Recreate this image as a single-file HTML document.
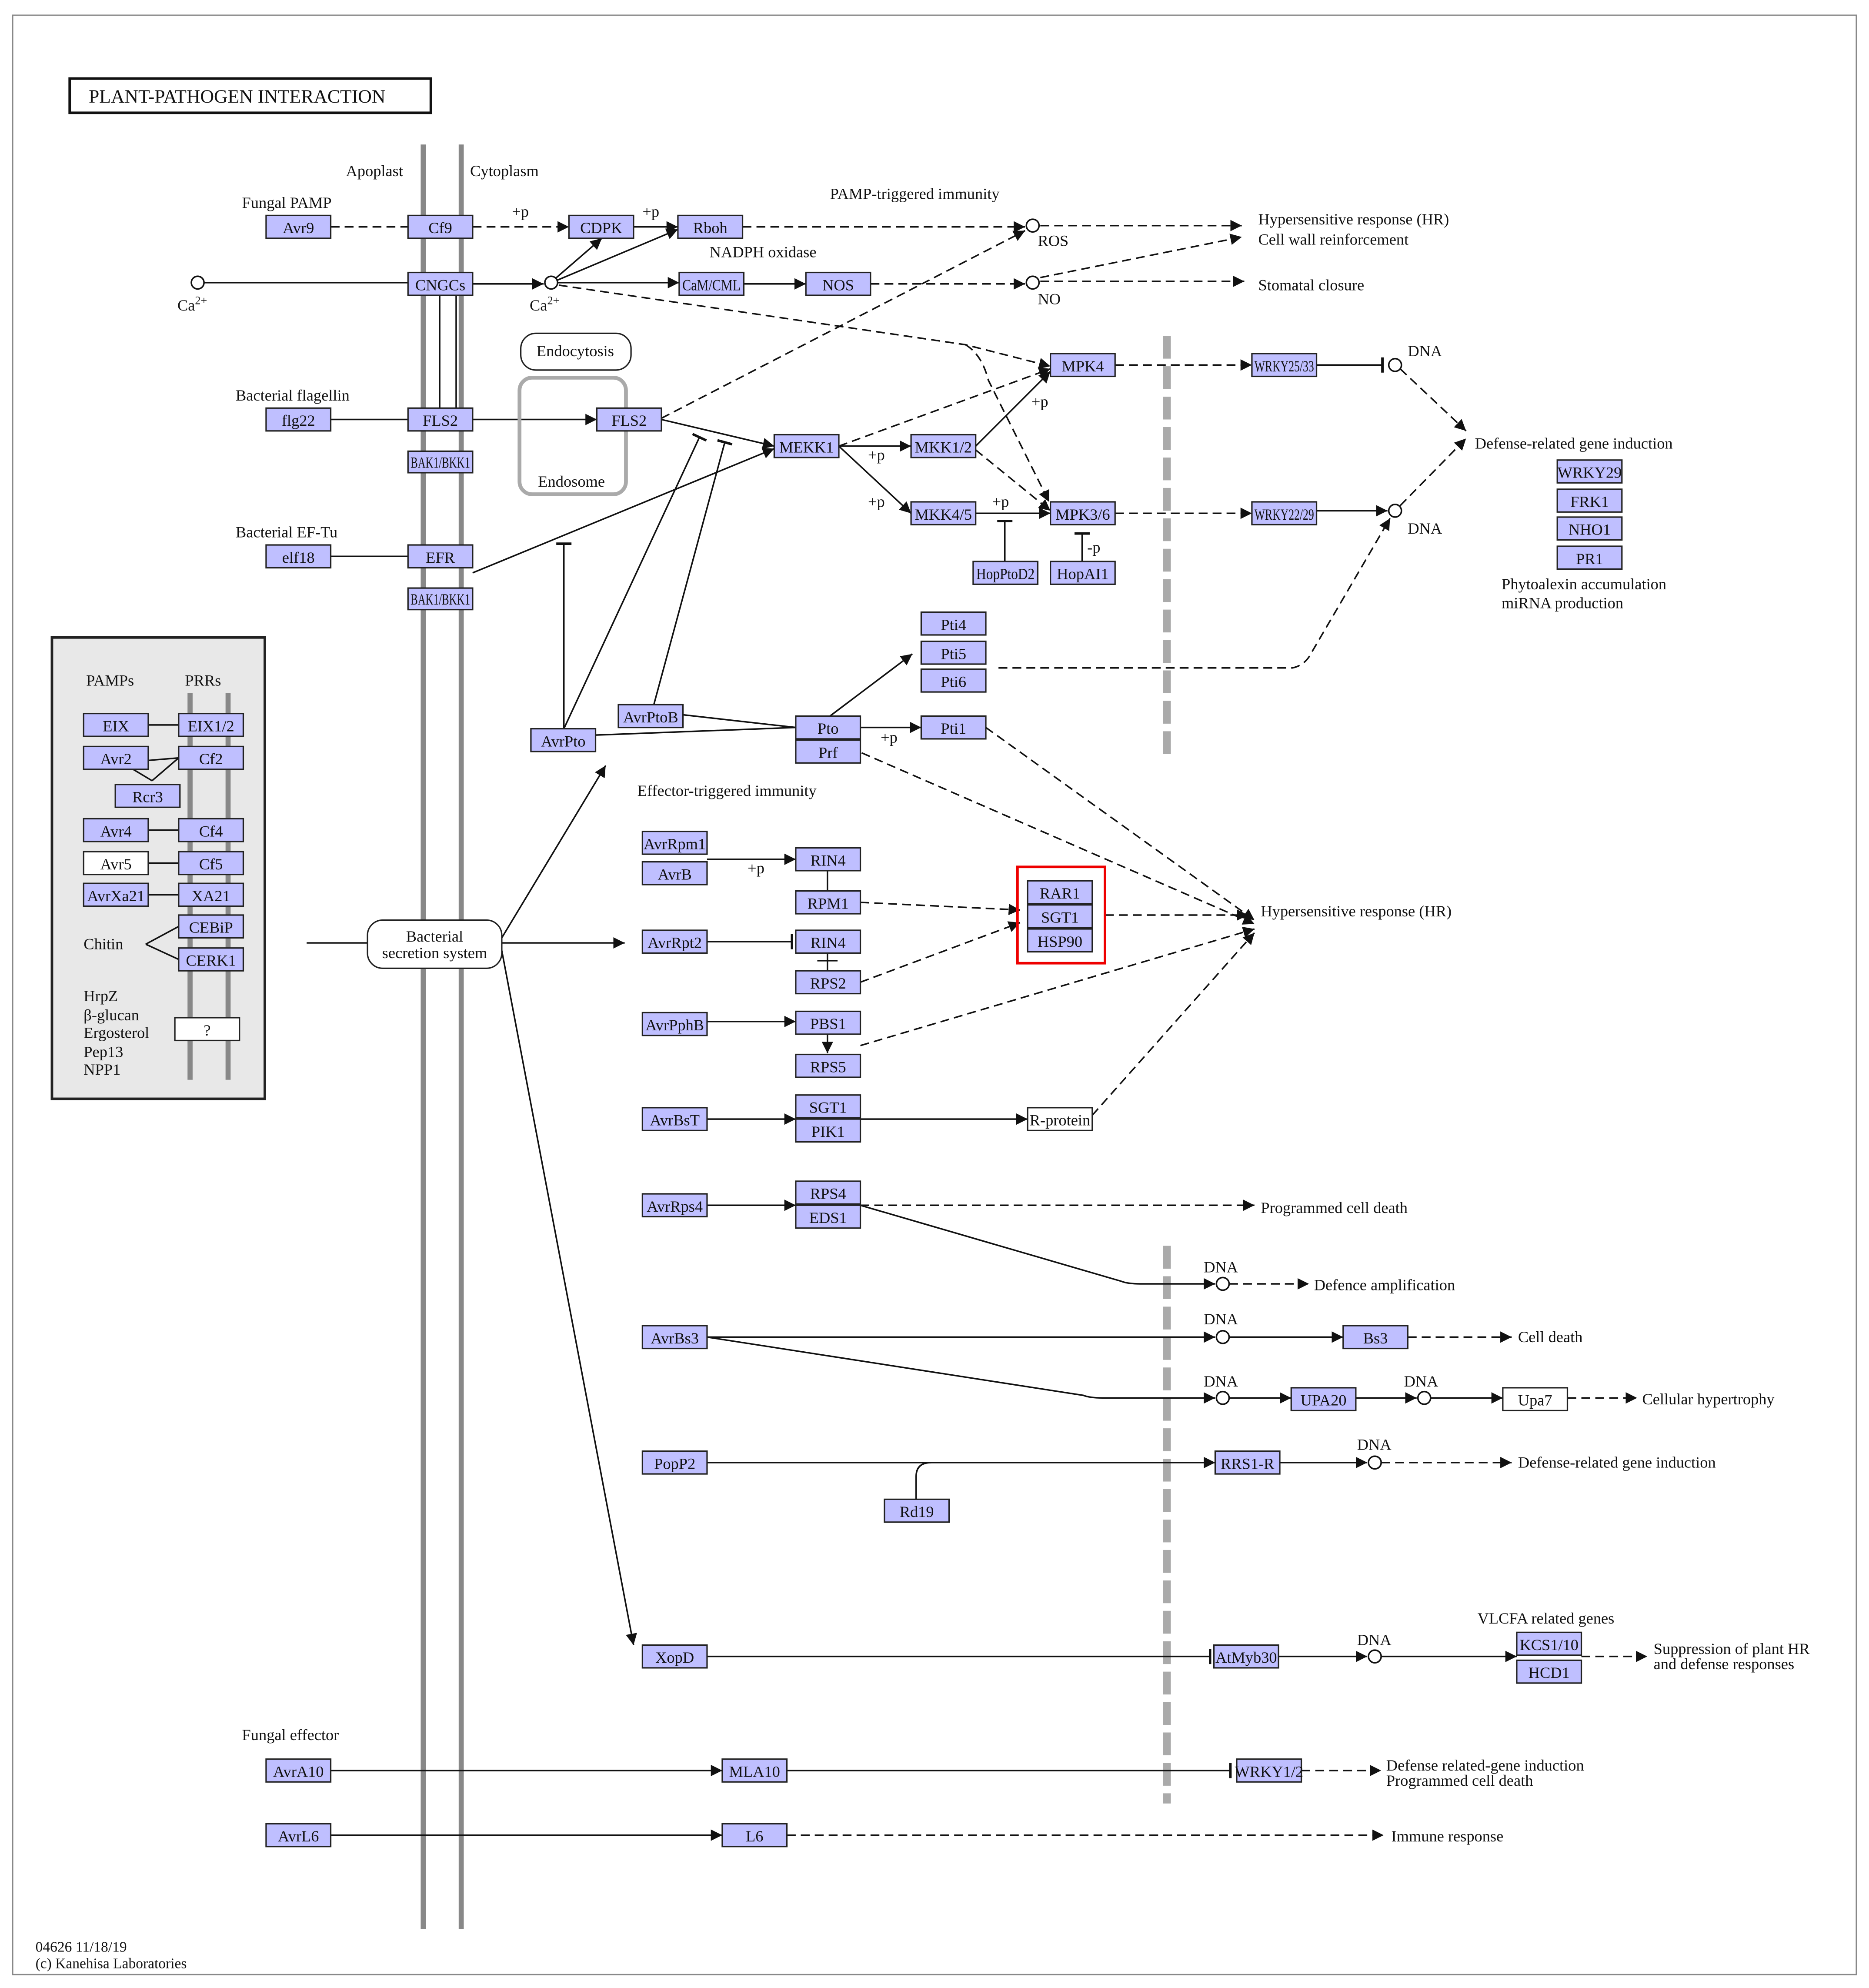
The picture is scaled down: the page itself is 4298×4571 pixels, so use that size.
<!DOCTYPE html>
<html><head><meta charset="utf-8"><style>
html,body{margin:0;padding:0;background:#fff;}
svg{display:block}
text{font-family:"Liberation Serif",serif;fill:#111;}
.b{fill:#bfbfff;stroke:#222;stroke-width:1.1}
.w{fill:#fff;stroke:#222;stroke-width:1.1}
.t{font-size:12.5px;text-anchor:middle}
.l{font-size:12.5px}
.s{stroke:#111;stroke-width:1.2;fill:none}
.d{stroke:#111;stroke-width:1.2;fill:none;stroke-dasharray:7,4}
.c{fill:#fff;stroke:#111;stroke-width:1.2}
</style></head><body>
<svg width="4298" height="4571" viewBox="0 0 1475 1568.6" preserveAspectRatio="none" xmlns="http://www.w3.org/2000/svg">
<defs>
<marker id="a" viewBox="0 0 10 10" refX="10" refY="5" markerWidth="9" markerHeight="9" markerUnits="userSpaceOnUse" orient="auto"><path d="M0,0L10,5L0,10z" fill="#111"/></marker>
<marker id="i" viewBox="0 0 2 12" refX="1" refY="6" markerWidth="2" markerHeight="14" markerUnits="userSpaceOnUse" orient="auto"><rect x="0" y="0" width="2" height="12" fill="#111"/></marker>
</defs>
<rect x="10" y="12" width="1455" height="1546" fill="#fff" stroke="#888" stroke-width="1"/>
<rect x="55" y="62" width="285" height="27" fill="#fff" stroke="#111" stroke-width="2"/>
<text x="70" y="81" style="font-size:15px">PLANT-PATHOGEN  INTERACTION</text>
<!-- membranes -->
<line x1="334" y1="114" x2="334" y2="1522" stroke="#888" stroke-width="4"/>
<line x1="364" y1="114" x2="364" y2="1522" stroke="#888" stroke-width="4"/>
<text class="l" x="273" y="139">Apoplast</text><text class="l" x="371" y="139">Cytoplasm</text>
<!-- gray dashed -->
<line x1="921" y1="265" x2="921" y2="595" stroke="#aaa" stroke-width="6" stroke-dasharray="18,6"/>
<line x1="921" y1="983" x2="921" y2="1423" stroke="#aaa" stroke-width="6" stroke-dasharray="18,6"/>
<!-- inset -->
<rect x="41" y="503" width="168" height="364" fill="#e8e8e8" stroke="#222" stroke-width="2"/>
<line x1="150" y1="547" x2="150" y2="852" stroke="#888" stroke-width="4"/>
<line x1="180" y1="547" x2="180" y2="852" stroke="#888" stroke-width="4"/>
<text class="l" x="68" y="541">PAMPs</text><text class="l" x="146" y="541">PRRs</text>
<g class="s"><line x1="117" y1="572" x2="141" y2="572"/><line x1="105" y1="607" x2="120" y2="616"/><line x1="120" y1="616" x2="141" y2="598"/><line x1="117" y1="600" x2="141" y2="598"/><line x1="117" y1="655" x2="141" y2="655"/><line x1="117" y1="681" x2="141" y2="681"/><line x1="117" y1="706" x2="141" y2="706"/><line x1="115" y1="745" x2="141" y2="731"/><line x1="115" y1="745" x2="141" y2="757"/></g>
<rect class="b" x="66" y="563" width="51" height="18"/><text class="t" x="91.5" y="577">EIX</text>
<rect class="b" x="141" y="563" width="51" height="18"/><text class="t" x="166.5" y="577">EIX1/2</text>
<rect class="b" x="66" y="589" width="51" height="18"/><text class="t" x="91.5" y="603">Avr2</text>
<rect class="b" x="141" y="589" width="51" height="18"/><text class="t" x="166.5" y="603">Cf2</text>
<rect class="b" x="91" y="619" width="51" height="18"/><text class="t" x="116.5" y="633">Rcr3</text>
<rect class="b" x="66" y="646" width="51" height="18"/><text class="t" x="91.5" y="660">Avr4</text>
<rect class="b" x="141" y="646" width="51" height="18"/><text class="t" x="166.5" y="660">Cf4</text>
<rect class="w" x="66" y="672" width="51" height="18"/><text class="t" x="91.5" y="686">Avr5</text>
<rect class="b" x="141" y="672" width="51" height="18"/><text class="t" x="166.5" y="686">Cf5</text>
<rect class="b" x="66" y="697" width="51" height="18"/><text class="t" x="91.5" y="711">AvrXa21</text>
<rect class="b" x="141" y="697" width="51" height="18"/><text class="t" x="166.5" y="711">XA21</text>
<rect class="b" x="141" y="722" width="51" height="18"/><text class="t" x="166.5" y="736">CEBiP</text>
<rect class="b" x="141" y="748" width="51" height="18"/><text class="t" x="166.5" y="762">CERK1</text>
<text class="l" x="66" y="749">Chitin</text>
<text class="l" x="66" y="790">HrpZ</text><text class="l" x="66" y="805">β-glucan</text><text class="l" x="66" y="819">Ergosterol</text><text class="l" x="66" y="834">Pep13</text><text class="l" x="66" y="848">NPP1</text>
<rect class="w" x="138" y="803" width="51" height="18"/><text class="t" x="163.5" y="817">?</text>

<!-- edges -->
<g class="s">
<line x1="161" y1="223" x2="322" y2="223"/>
<line x1="373" y1="224" x2="429" y2="224" marker-end="url(#a)"/>
<line x1="438" y1="220" x2="475" y2="188" marker-end="url(#a)"/>
<line x1="440" y1="221" x2="535" y2="181" marker-end="url(#a)"/>
<line x1="440" y1="223" x2="536" y2="223" marker-end="url(#a)"/>
<line x1="587" y1="224" x2="636" y2="224" marker-end="url(#a)"/>
<line x1="500" y1="179" x2="535" y2="179" marker-end="url(#a)"/>
<line x1="347" y1="233" x2="347" y2="322"/><line x1="360" y1="233" x2="360" y2="322"/>
<line x1="261" y1="331" x2="322" y2="331"/>
<line x1="373" y1="331" x2="471" y2="331" marker-end="url(#a)"/>
<line x1="522" y1="331" x2="611" y2="352" marker-end="url(#a)"/>
<line x1="261" y1="439" x2="322" y2="439"/>
<line x1="373" y1="452" x2="611" y2="354" marker-end="url(#a)"/>
<line x1="662" y1="352" x2="719" y2="352" marker-end="url(#a)"/>
<line x1="662" y1="352" x2="719" y2="405" marker-end="url(#a)"/>
<line x1="770" y1="352" x2="829" y2="293" marker-end="url(#a)"/>
<line x1="770" y1="405" x2="829" y2="405" marker-end="url(#a)"/>
<line x1="793" y1="443" x2="793" y2="411" marker-end="url(#i)"/>
<line x1="854" y1="443" x2="854" y2="421" marker-end="url(#i)"/>
<line x1="1039" y1="288" x2="1091" y2="288" marker-end="url(#i)"/>
<line x1="1039" y1="403" x2="1095" y2="403" marker-end="url(#a)"/>
<line x1="445" y1="575" x2="445" y2="429" marker-end="url(#i)"/>
<line x1="445" y1="575" x2="552" y2="345" marker-end="url(#i)"/>
<line x1="516" y1="556" x2="572" y2="349" marker-end="url(#i)"/>
<line x1="539" y1="564" x2="628" y2="574"/>
<line x1="470" y1="580" x2="628" y2="574"/>
<line x1="655" y1="565" x2="720" y2="516" marker-end="url(#a)"/>
<line x1="679" y1="574" x2="727" y2="574" marker-end="url(#a)"/>
<line x1="242" y1="744" x2="290" y2="744"/>
<line x1="396" y1="740" x2="478" y2="604" marker-end="url(#a)"/>
<line x1="396" y1="744" x2="493" y2="744" marker-end="url(#a)"/>
<line x1="396" y1="750" x2="500" y2="1298" marker-end="url(#a)"/>
<line x1="558" y1="678" x2="628" y2="678" marker-end="url(#a)"/>
<line x1="653" y1="687" x2="653" y2="703"/>
<line x1="558" y1="743" x2="625" y2="743" marker-end="url(#i)"/>
<line x1="653" y1="752" x2="653" y2="766"/><line x1="645" y1="758" x2="661" y2="758"/>
<line x1="558" y1="806" x2="628" y2="806" marker-end="url(#a)"/>
<line x1="653" y1="816" x2="653" y2="831" marker-end="url(#a)"/>
<line x1="558" y1="883" x2="628" y2="883" marker-end="url(#a)"/>
<line x1="679" y1="883" x2="811" y2="883" marker-end="url(#a)"/>
<line x1="558" y1="951" x2="628" y2="951" marker-end="url(#a)"/>
<path d="M679,951 L885,1011 Q890,1013 900,1013 L959,1013" marker-end="url(#a)"/>
<line x1="558" y1="1055" x2="959" y2="1055" marker-end="url(#a)"/>
<line x1="970" y1="1055" x2="1060" y2="1055" marker-end="url(#a)"/>
<path d="M558,1055 L855,1101 Q860,1103 870,1103 L959,1103" marker-end="url(#a)"/>
<line x1="970" y1="1103" x2="1019" y2="1103" marker-end="url(#a)"/>
<line x1="1070" y1="1103" x2="1118" y2="1103" marker-end="url(#a)"/>
<line x1="1129" y1="1103" x2="1186" y2="1103" marker-end="url(#a)"/>
<line x1="558" y1="1154" x2="959" y2="1154" marker-end="url(#a)"/>
<path d="M723,1183 L723,1165 Q723,1154 735,1154"/>
<line x1="1010" y1="1154" x2="1079" y2="1154" marker-end="url(#a)"/>
<line x1="558" y1="1307" x2="955" y2="1307" marker-end="url(#i)"/>
<line x1="1009" y1="1307" x2="1079" y2="1307" marker-end="url(#a)"/>
<line x1="1090" y1="1307" x2="1197" y2="1307" marker-end="url(#a)"/>
<line x1="261" y1="1397" x2="570" y2="1397" marker-end="url(#a)"/>
<line x1="621" y1="1397" x2="971" y2="1397" marker-end="url(#i)"/>
<line x1="261" y1="1448" x2="570" y2="1448" marker-end="url(#a)"/>
</g>
<g class="d">
<line x1="261" y1="179" x2="322" y2="179"/>
<line x1="373" y1="179" x2="449" y2="179" marker-end="url(#a)"/>
<line x1="586" y1="179" x2="809" y2="179" marker-end="url(#a)"/>
<line x1="821" y1="178" x2="980" y2="178" marker-end="url(#a)"/>
<line x1="687" y1="224" x2="809" y2="224" marker-end="url(#a)"/>
<line x1="821" y1="222" x2="982" y2="222" marker-end="url(#a)"/>
<line x1="821" y1="219" x2="980" y2="187" marker-end="url(#a)"/>
<line x1="522" y1="330" x2="809" y2="182" marker-end="url(#a)"/>
<path d="M441,225 L762,272 L829,289" marker-end="url(#a)"/>
<path d="M762,272 Q775,280 780,300 L828,396" marker-end="url(#a)"/>
<line x1="662" y1="352" x2="829" y2="291" marker-end="url(#a)"/>
<line x1="770" y1="355" x2="829" y2="403" marker-end="url(#a)"/>
<line x1="880" y1="288" x2="988" y2="288" marker-end="url(#a)"/>
<line x1="880" y1="405" x2="988" y2="405" marker-end="url(#a)"/>
<line x1="1105" y1="291" x2="1157" y2="340" marker-end="url(#a)"/>
<line x1="1105" y1="399" x2="1157" y2="346" marker-end="url(#a)"/>
<path d="M788,527 L1020,527 Q1030,525 1035,515 L1097,409" marker-end="url(#a)"/>
<line x1="778" y1="574" x2="990" y2="726" marker-end="url(#a)"/>
<line x1="680" y1="594" x2="990" y2="729" marker-end="url(#a)"/>
<line x1="679" y1="712" x2="805" y2="718" marker-end="url(#a)"/>
<line x1="679" y1="775" x2="805" y2="728" marker-end="url(#a)"/>
<line x1="872" y1="722" x2="985" y2="722" marker-end="url(#a)"/>
<line x1="679" y1="825" x2="990" y2="733" marker-end="url(#a)"/>
<line x1="862" y1="880" x2="990" y2="736" marker-end="url(#a)"/>
<line x1="679" y1="951" x2="990" y2="951" marker-end="url(#a)"/>
<line x1="970" y1="1013" x2="1033" y2="1013" marker-end="url(#a)"/>
<line x1="1111" y1="1055" x2="1193" y2="1055" marker-end="url(#a)"/>
<line x1="1237" y1="1103" x2="1292" y2="1103" marker-end="url(#a)"/>
<line x1="1090" y1="1154" x2="1193" y2="1154" marker-end="url(#a)"/>
<line x1="1248" y1="1307" x2="1300" y2="1307" marker-end="url(#a)"/>
<line x1="1027" y1="1397" x2="1090" y2="1397" marker-end="url(#a)"/>
<line x1="621" y1="1448" x2="1092" y2="1448" marker-end="url(#a)"/>
</g>
<!-- circles -->
<circle class="c" cx="156" cy="223" r="5"/><circle class="c" cx="435" cy="223" r="5"/>
<circle class="c" cx="815" cy="178" r="5"/><circle class="c" cx="815" cy="223" r="5"/>
<circle class="c" cx="1101" cy="288" r="5"/><circle class="c" cx="1101" cy="403" r="5"/>
<circle class="c" cx="965" cy="1013" r="5"/><circle class="c" cx="965" cy="1055" r="5"/>
<circle class="c" cx="965" cy="1103" r="5"/><circle class="c" cx="1124" cy="1103" r="5"/>
<circle class="c" cx="1085" cy="1154" r="5"/><circle class="c" cx="1085" cy="1307" r="5"/>
<!-- rounded -->
<rect x="411" y="263" width="87" height="29" rx="12" fill="#fff" stroke="#222" stroke-width="1.1"/>
<text class="t" x="454" y="281">Endocytosis</text>
<rect x="410" y="298" width="84" height="92" rx="10" fill="none" stroke="#aaa" stroke-width="3"/>
<text class="t" x="451" y="384">Endosome</text>
<rect x="290" y="726" width="106" height="38" rx="12" fill="#fff" stroke="#222" stroke-width="1.1"/>
<text class="t" x="343" y="743">Bacterial</text><text class="t" x="343" y="756">secretion system</text>
<!-- boxes -->
<g>
<rect class="b" x="210" y="170" width="51" height="18"/><text class="t" x="235.5" y="184">Avr9</text>
<rect class="b" x="322" y="170" width="51" height="18"/><text class="t" x="347.5" y="184">Cf9</text>
<rect class="b" x="449" y="170" width="51" height="18"/><text class="t" x="474.5" y="184">CDPK</text>
<rect class="b" x="535" y="170" width="51" height="18"/><text class="t" x="560.5" y="184">Rboh</text>
<rect class="b" x="322" y="215" width="51" height="18"/><text class="t" x="347.5" y="229">CNGCs</text>
<rect class="b" x="536" y="215" width="51" height="18"/><text class="t" x="561.5" y="229" textLength="46" lengthAdjust="spacingAndGlyphs">CaM/CML</text>
<rect class="b" x="636" y="215" width="51" height="18"/><text class="t" x="661.5" y="229">NOS</text>
<rect class="b" x="210" y="322" width="51" height="18"/><text class="t" x="235.5" y="336">flg22</text>
<rect class="b" x="322" y="322" width="51" height="18"/><text class="t" x="347.5" y="336">FLS2</text>
<rect class="b" x="322" y="356" width="51" height="17"/><text class="t" x="347.5" y="369" textLength="47" lengthAdjust="spacingAndGlyphs">BAK1/BKK1</text>
<rect class="b" x="471" y="322" width="51" height="18"/><text class="t" x="496.5" y="336">FLS2</text>
<rect class="b" x="210" y="430" width="51" height="18"/><text class="t" x="235.5" y="444">elf18</text>
<rect class="b" x="322" y="430" width="51" height="18"/><text class="t" x="347.5" y="444">EFR</text>
<rect class="b" x="322" y="464" width="51" height="17"/><text class="t" x="347.5" y="477" textLength="47" lengthAdjust="spacingAndGlyphs">BAK1/BKK1</text>
<rect class="b" x="611" y="343" width="51" height="18"/><text class="t" x="636.5" y="357">MEKK1</text>
<rect class="b" x="719" y="343" width="51" height="18"/><text class="t" x="744.5" y="357">MKK1/2</text>
<rect class="b" x="719" y="396" width="51" height="18"/><text class="t" x="744.5" y="410">MKK4/5</text>
<rect class="b" x="829" y="279" width="51" height="18"/><text class="t" x="854.5" y="293">MPK4</text>
<rect class="b" x="829" y="396" width="51" height="18"/><text class="t" x="854.5" y="410">MPK3/6</text>
<rect class="b" x="768" y="443" width="51" height="18"/><text class="t" x="793.5" y="457" textLength="46" lengthAdjust="spacingAndGlyphs">HopPtoD2</text>
<rect class="b" x="829" y="443" width="51" height="18"/><text class="t" x="854.5" y="457">HopAI1</text>
<rect class="b" x="988" y="279" width="51" height="18"/><text class="t" x="1013.5" y="293" textLength="47" lengthAdjust="spacingAndGlyphs">WRKY25/33</text>
<rect class="b" x="988" y="396" width="51" height="18"/><text class="t" x="1013.5" y="410" textLength="47" lengthAdjust="spacingAndGlyphs">WRKY22/29</text>
<rect class="b" x="1229" y="363" width="51" height="18"/><text class="t" x="1254.5" y="377">WRKY29</text>
<rect class="b" x="1229" y="386" width="51" height="18"/><text class="t" x="1254.5" y="400">FRK1</text>
<rect class="b" x="1229" y="408" width="51" height="18"/><text class="t" x="1254.5" y="422">NHO1</text>
<rect class="b" x="1229" y="431" width="51" height="18"/><text class="t" x="1254.5" y="445">PR1</text>
<rect class="b" x="727" y="483" width="51" height="18"/><text class="t" x="752.5" y="497">Pti4</text>
<rect class="b" x="727" y="506" width="51" height="18"/><text class="t" x="752.5" y="520">Pti5</text>
<rect class="b" x="727" y="528" width="51" height="18"/><text class="t" x="752.5" y="542">Pti6</text>
<rect class="b" x="727" y="565" width="51" height="18"/><text class="t" x="752.5" y="579">Pti1</text>
<rect class="b" x="628" y="565" width="51" height="18"/><text class="t" x="653.5" y="579">Pto</text>
<rect class="b" x="628" y="584" width="51" height="18"/><text class="t" x="653.5" y="598">Prf</text>
<rect class="b" x="488" y="556" width="51" height="18"/><text class="t" x="513.5" y="570">AvrPtoB</text>
<rect class="b" x="419" y="575" width="51" height="18"/><text class="t" x="444.5" y="589">AvrPto</text>
<rect class="b" x="507" y="656" width="51" height="18"/><text class="t" x="532.5" y="670">AvrRpm1</text>
<rect class="b" x="507" y="680" width="51" height="18"/><text class="t" x="532.5" y="694">AvrB</text>
<rect class="b" x="628" y="669" width="51" height="18"/><text class="t" x="653.5" y="683">RIN4</text>
<rect class="b" x="628" y="703" width="51" height="18"/><text class="t" x="653.5" y="717">RPM1</text>
<rect x="803" y="684" width="69" height="76" fill="none" stroke="#e00" stroke-width="2"/>
<rect class="b" x="811" y="695" width="51" height="18"/><text class="t" x="836.5" y="709">RAR1</text>
<rect class="b" x="811" y="714" width="51" height="18"/><text class="t" x="836.5" y="728">SGT1</text>
<rect class="b" x="811" y="733" width="51" height="18"/><text class="t" x="836.5" y="747">HSP90</text>
<rect class="b" x="507" y="734" width="51" height="18"/><text class="t" x="532.5" y="748">AvrRpt2</text>
<rect class="b" x="628" y="734" width="51" height="18"/><text class="t" x="653.5" y="748">RIN4</text>
<rect class="b" x="628" y="766" width="51" height="18"/><text class="t" x="653.5" y="780">RPS2</text>
<rect class="b" x="507" y="799" width="51" height="18"/><text class="t" x="532.5" y="813">AvrPphB</text>
<rect class="b" x="628" y="798" width="51" height="18"/><text class="t" x="653.5" y="812">PBS1</text>
<rect class="b" x="628" y="832" width="51" height="18"/><text class="t" x="653.5" y="846">RPS5</text>
<rect class="b" x="507" y="874" width="51" height="18"/><text class="t" x="532.5" y="888">AvrBsT</text>
<rect class="b" x="628" y="864" width="51" height="18"/><text class="t" x="653.5" y="878">SGT1</text>
<rect class="b" x="628" y="883" width="51" height="18"/><text class="t" x="653.5" y="897">PIK1</text>
<rect class="w" x="811" y="874" width="51" height="18"/><text class="t" x="836.5" y="888">R-protein</text>
<rect class="b" x="507" y="942" width="51" height="18"/><text class="t" x="532.5" y="956">AvrRps4</text>
<rect class="b" x="628" y="932" width="51" height="18"/><text class="t" x="653.5" y="946">RPS4</text>
<rect class="b" x="628" y="951" width="51" height="18"/><text class="t" x="653.5" y="965">EDS1</text>
<rect class="b" x="507" y="1046" width="51" height="18"/><text class="t" x="532.5" y="1060">AvrBs3</text>
<rect class="b" x="1060" y="1046" width="51" height="18"/><text class="t" x="1085.5" y="1060">Bs3</text>
<rect class="b" x="1019" y="1095" width="51" height="18"/><text class="t" x="1044.5" y="1109">UPA20</text>
<rect class="w" x="1186" y="1095" width="51" height="18"/><text class="t" x="1211.5" y="1109">Upa7</text>
<rect class="b" x="507" y="1145" width="51" height="18"/><text class="t" x="532.5" y="1159">PopP2</text>
<rect class="b" x="959" y="1145" width="51" height="18"/><text class="t" x="984.5" y="1159">RRS1-R</text>
<rect class="b" x="698" y="1183" width="51" height="18"/><text class="t" x="723.5" y="1197">Rd19</text>
<rect class="b" x="507" y="1298" width="51" height="18"/><text class="t" x="532.5" y="1312">XopD</text>
<rect class="b" x="958" y="1298" width="51" height="18"/><text class="t" x="983.5" y="1312">AtMyb30</text>
<rect class="b" x="1197" y="1288" width="51" height="18"/><text class="t" x="1222.5" y="1302">KCS1/10</text>
<rect class="b" x="1197" y="1310" width="51" height="18"/><text class="t" x="1222.5" y="1324">HCD1</text>
<rect class="b" x="210" y="1388" width="51" height="18"/><text class="t" x="235.5" y="1402">AvrA10</text>
<rect class="b" x="570" y="1388" width="51" height="18"/><text class="t" x="595.5" y="1402">MLA10</text>
<rect class="b" x="976" y="1388" width="51" height="18"/><text class="t" x="1001.5" y="1402">WRKY1/2</text>
<rect class="b" x="210" y="1439" width="51" height="18"/><text class="t" x="235.5" y="1453">AvrL6</text>
<rect class="b" x="570" y="1439" width="51" height="18"/><text class="t" x="595.5" y="1453">L6</text>
</g>
<!-- labels -->
<g class="l">
<text class="l" x="191" y="164">Fungal PAMP</text>
<text class="l" x="186" y="316">Bacterial flagellin</text>
<text class="l" x="186" y="424">Bacterial EF-Tu</text>
<text class="l" x="404" y="171">+p</text><text class="l" x="507" y="171">+p</text>
<text class="l" x="655" y="157">PAMP-triggered immunity</text>
<text class="l" x="560" y="203">NADPH oxidase</text>
<text class="l" x="819" y="194">ROS</text><text class="l" x="819" y="240">NO</text>
<text class="l" x="993" y="177">Hypersensitive response (HR)</text>
<text class="l" x="993" y="193">Cell wall reinforcement</text>
<text class="l" x="993" y="229">Stomatal closure</text>
<text class="l" x="140" y="245">Ca<tspan font-size="9" dy="-5">2+</tspan></text>
<text class="l" x="418" y="245">Ca<tspan font-size="9" dy="-5">2+</tspan></text>
<text class="l" x="1111" y="281">DNA</text><text class="l" x="1111" y="421">DNA</text>
<text class="l" x="1164" y="354">Defense-related gene induction</text>
<text class="l" x="1185" y="465">Phytoalexin accumulation</text>
<text class="l" x="1185" y="480">miRNA production</text>
<text class="l" x="814" y="321">+p</text><text class="l" x="685" y="363">+p</text><text class="l" x="685" y="400">+p</text><text class="l" x="783" y="400">+p</text><text class="l" x="858" y="436">-p</text>
<text class="l" x="695" y="586">+p</text>
<text class="l" x="503" y="628">Effector-triggered immunity</text>
<text class="l" x="590" y="689">+p</text>
<text class="l" x="995" y="723">Hypersensitive response (HR)</text>
<text class="l" x="995" y="957">Programmed cell death</text>
<text class="l" x="950" y="1004">DNA</text>
<text class="l" x="1037" y="1018">Defence amplification</text>
<text class="l" x="950" y="1045">DNA</text>
<text class="l" x="1198" y="1059">Cell death</text>
<text class="l" x="950" y="1094">DNA</text><text class="l" x="1108" y="1094">DNA</text>
<text class="l" x="1296" y="1108">Cellular hypertrophy</text>
<text class="l" x="1071" y="1144">DNA</text>
<text class="l" x="1198" y="1158">Defense-related gene induction</text>
<text class="l" x="1166" y="1281">VLCFA related genes</text>
<text class="l" x="1071" y="1298">DNA</text>
<text class="l" x="1305" y="1305">Suppression of plant HR</text>
<text class="l" x="1305" y="1317">and defense responses</text>
<text class="l" x="191" y="1373">Fungal effector</text>
<text class="l" x="1094" y="1397">Defense related-gene induction</text>
<text class="l" x="1094" y="1409">Programmed cell death</text>
<text class="l" x="1098" y="1453">Immune response</text>
<text class="l" x="28" y="1540" style="font-size:11.5px">04626 11/18/19</text>
<text class="l" x="28" y="1553" style="font-size:11.5px">(c) Kanehisa Laboratories</text>
</g>
</svg>
</body></html>
